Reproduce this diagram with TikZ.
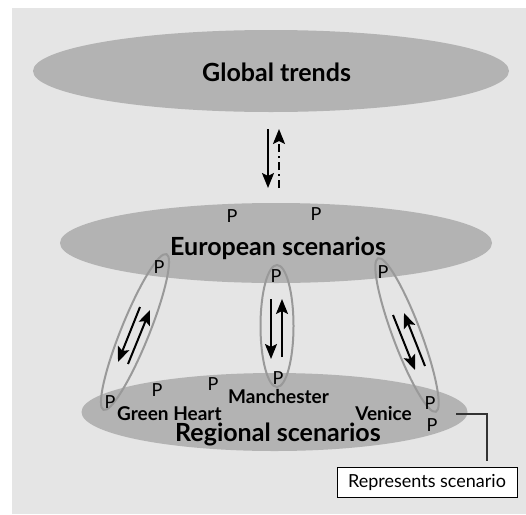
\documentclass[tikz,border=0pt]{standalone}
\usepackage{fontspec}
\setmainfont{Lato}
\usetikzlibrary{shapes.geometric,arrows.meta}
\definecolor{panelgray}{HTML}{E5E5E5}
\definecolor{blobgray}{HTML}{B3B3B3}
\definecolor{ringgray}{HTML}{999999}
\definecolor{leadgray}{HTML}{333333}
\begin{document}
\begin{tikzpicture}[x=1pt,y=-1pt,
  blob/.style={ellipse, fill=blobgray, draw=none, inner sep=0pt},
  ring/.style={ellipse, draw=ringgray, line width=2pt, inner sep=0pt},
  title/.style={font=\fontsize{25}{25}\selectfont\bfseries, inner sep=0pt, anchor=base west},
  place/.style={font=\fontsize{19}{19}\selectfont\bfseries, inner sep=0pt, anchor=base west},
  pmark/.style={font=\fontsize{18}{18}\selectfont, inner sep=0pt},
  flow/.style={line width=2pt, -{Stealth[length=15pt,width=12pt,inset=3pt]}},
  leader/.style={line width=1.3pt, draw=leadgray},
  legendbox/.style={draw=black, fill=white, line width=1pt, minimum width=180pt,
    minimum height=30pt, inner sep=0pt, font=\fontsize{18}{18}\selectfont},
]
\useasboundingbox (0,0) rectangle (526,514);
% panel
\fill[panelgray] (12,8) rectangle (526,514);

% the three levels
\node[blob, minimum width=476pt, minimum height=82pt] (global) at (271,71) {};
\node[blob, minimum width=432pt, minimum height=80pt] (europe) at (276,243) {};
\node[blob, minimum width=386pt, minimum height=78pt] (region) at (274.5,412) {};

\node[title] (globaltxt) at (202,81) {Global trends};
\node[title] (europetxt) at (170,255) {European scenarios};
\node[title] (regiontxt) at (175,441.5) {Regional scenarios};

% links between European and regional scenarios
\node[ring, minimum width=168pt, minimum height=28pt, rotate=68] (linkL) at (135,332) {};
\node[ring, minimum width=122pt, minimum height=33pt, rotate=90] (linkM) at (277,326) {};
\node[ring, minimum width=164pt, minimum height=28pt, rotate=110.6] (linkR) at (407,335) {};

% region names
\node[place] (greenheart) at (117,420) {Green Heart};
\node[place] (manchester) at (228,403.5) {Manchester};
\node[place, anchor=base east] (venice) at (412,420) {Venice};

% scenario marks
\node[pmark] (p1) at (232,216) {P};
\node[pmark] (p2) at (316,214) {P};
\node[pmark] (p3) at (159,267) {P};
\node[pmark] (p4) at (276,276) {P};
\node[pmark] (p5) at (383,272) {P};
\node[pmark] (p6) at (110,402) {P};
\node[pmark] (p7) at (157,390) {P};
\node[pmark] (p8) at (213,384) {P};
\node[pmark] (p9) at (278,378) {P};
\node[pmark] (p10) at (430,403) {P};
\node[pmark] (p11) at (432,425) {P};

% arrow end points
\coordinate (gdA) at (268,129); \coordinate (gdB) at (268,188);
\coordinate (guA) at (279,188); \coordinate (guB) at (279,129);
\coordinate (ldA) at (140,307); \coordinate (ldB) at (118,362);
\coordinate (luA) at (128,364); \coordinate (luB) at (150,310);
\coordinate (mdA) at (271,299); \coordinate (mdB) at (271,359);
\coordinate (muA) at (282,357); \coordinate (muB) at (282,299);
\coordinate (rdA) at (393,315); \coordinate (rdB) at (415,370);
\coordinate (ruA) at (425,366); \coordinate (ruB) at (404,313);

\draw[flow] (gdA) -- (gdB);
\draw[flow, dash pattern=on 8pt off 4pt on 2pt off 4pt] (guA) -- (guB);
\draw[flow] (ldA) -- (ldB);
\draw[flow] (luA) -- (luB);
\draw[flow] (mdA) -- (mdB);
\draw[flow] (muA) -- (muB);
\draw[flow] (rdA) -- (rdB);
\draw[flow] (ruA) -- (ruB);

% legend
\node[legendbox] (legend) at (427,482) {Represents scenario};
\coordinate (lead) at (456,414);
\coordinate (bend) at (487,461);
\draw[leader] (lead) -| (bend);
\end{tikzpicture}
\end{document}
